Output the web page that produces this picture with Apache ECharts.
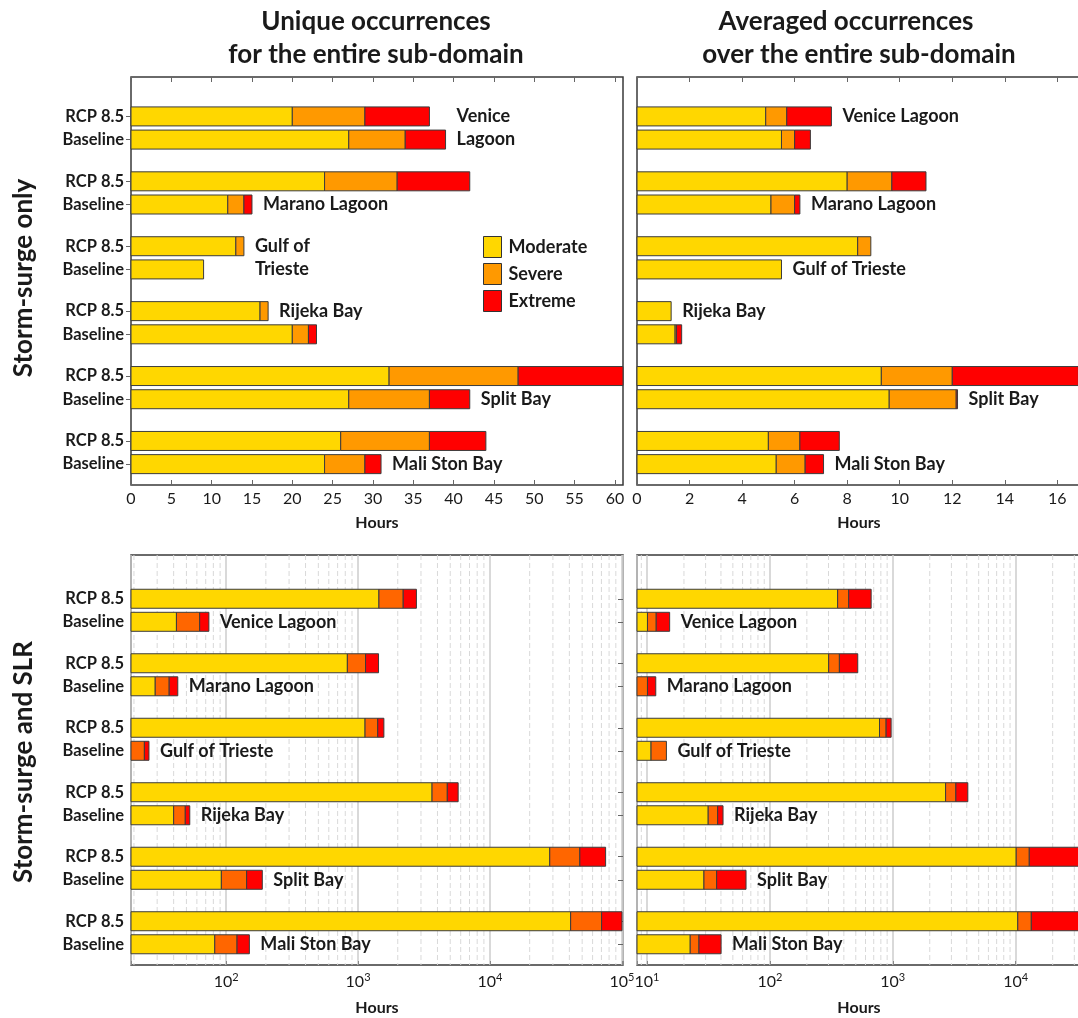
<!DOCTYPE html>
<html><head><meta charset="utf-8">
<script src="https://cdn.jsdelivr.net/npm/echarts@6/dist/echarts.min.js"></script>
<style>html,body{margin:0;padding:0;background:#fff}#c{width:1078px;height:1018px}</style>
</head><body><div id="c"></div>
<script>
// ---------------- data ----------------
const regions = ['Venice Lagoon','Marano Lagoon','Gulf of Trieste','Rijeka Bay','Split Bay','Mali Ston Bay'];
const scenarios = ['RCP 8.5','Baseline'];
const classes = ['Moderate','Severe','Extreme'];
const columnTitles = [['Unique occurrences','for the entire sub-domain'],['Averaged occurrences','over the entire sub-domain']];
const rowTitles = ['Storm-surge only','Storm-surge and SLR'];

// bar order: Venice RCP, Venice Base, Marano RCP, Marano Base, Gulf RCP, Gulf Base,
//            Rijeka RCP, Rijeka Base, Split RCP, Split Base, Mali RCP, Mali Base
// hours spent in each class
const uniqueSurgeModerate = [20, 27, 24, 12, 13, 9, 16, 20, 32, 27, 26, 24];
const uniqueSurgeSevere   = [ 9,  7,  9,  2,  1, 0,  1,  2, 16, 10, 11,  5];
const uniqueSurgeExtreme  = [ 8,  5,  9,  1,  0, 0,  0,  1, 13,  5,  7,  2];

const avgSurgeModerate = [4.9, 5.5, 8.0, 5.1, 8.4, 5.5, 1.3, 1.45, 9.3, 9.6, 5.0, 5.3];
const avgSurgeSevere   = [0.8, 0.5, 1.7, 0.9, 0.5, 0,   0,   0.05, 2.7, 2.55, 1.2, 1.1];
const avgSurgeExtreme  = [1.7, 0.6, 1.3, 0.2, 0,   0,   0,   0.2,  4.8, 0.05, 1.5, 0.7];

const uniqueSlrModerate = [1440, 42, 830, 29, 1130, 0,  3640, 40, 28400, 92, 40900, 82];
const uniqueSlrSevere   = [ 760, 21, 310,  8,  280, 24, 1110,  9, 19600, 51, 29300, 39];
const uniqueSlrExtreme  = [ 570, 11, 290,  6,  160,  2,  990,  4, 27300, 45, 30000, 29];

const avgSlrModerate = [356, 10.1, 301, 0,    780, 10.8, 2690, 31.5, 10100, 29.1, 10400, 22.5];
const avgSlrSevere   = [ 82,  1.8,  67, 10.1, 103,  3.6,  570,  6.1,  2800,  7.8,  3000,  4.0];
const avgSlrExtreme  = [229,  3.4, 151, 1.7,   87,  0,    820,  4.0, 20000, 27.1, 20000, 13.6];

// region name labels: [bar index it sits beside, text, vertical shift in bar steps]
const uniqueSurgeLabels = [[1,'Venice\nLagoon',-0.5],[3,'Marano Lagoon',0],[4,'Gulf of\nTrieste',0.5],[6,'Rijeka Bay',0],[9,'Split Bay',0],[11,'Mali Ston Bay',0]];
const avgSurgeLabels    = [[0,'Venice Lagoon',0],[3,'Marano Lagoon',0],[5,'Gulf of Trieste',0],[6,'Rijeka Bay',0],[9,'Split Bay',0],[11,'Mali Ston Bay',0]];
const uniqueSlrLabels   = [[1,'Venice Lagoon',0],[3,'Marano Lagoon',0],[5,'Gulf of Trieste',0],[7,'Rijeka Bay',0],[9,'Split Bay',0],[11,'Mali Ston Bay',0]];
const avgSlrLabels      = [[1,'Venice Lagoon',0],[3,'Marano Lagoon',0],[5,'Gulf of Trieste',0],[7,'Rijeka Bay',0],[9,'Split Bay',0],[11,'Mali Ston Bay',0]];

// axis ticks
const uniqueSurgeTicks = [0,5,10,15,20,25,30,35,40,45,50,55,60];
const avgSurgeTicks = [0,2,4,6,8,10,12,14,16];
const logMajorTicks = [10,100,1000,10000,100000];
const logMinorTicks = [9,20,30,40,50,60,70,80,90,200,300,400,500,600,700,800,900,
  2000,3000,4000,5000,6000,7000,8000,9000,20000,30000,40000,50000,60000,70000,80000,90000];

// ---------------- styling ----------------
const FONT = 'Lato, "Open Sans", "DejaVu Sans", sans-serif';
const TXT = '#1a1a1a';
const FRAME = '#3a3a3a';
const topColors = ['#FFD700','#FF9900','#FF0000'];
const botColors = ['#FFD700','#FF6600','#FF0000'];
const BAR_H = 19;

function slotOf(k, pad){ return pad + Math.floor(k/2)*14 + (k%2)*5; }
function makeCats(pad, botPad){
  const n = pad + 76 + botPad, ids = [], labs = [], isBar = [];
  for (let i=0;i<n;i++){ ids.push('s'+i); labs.push(''); isBar.push(false); }
  for (let k=0;k<12;k++){ const s = slotOf(k,pad); labs[s] = scenarios[k%2]; isBar[s] = true; }
  return {ids, labs, isBar};
}

function makeRender(info){
  return function(params, api){
    const cs = params.coordSys;
    const s = api.value(0), e = api.value(1), slot = api.value(2);
    const pe = api.coord([e, slot]);
    const x0 = s > 0 ? api.coord([s, slot])[0] : cs.x;
    const children = [];
    if (e > s) {
      const r = echarts.graphic.clipRectByRect({x:x0, y:pe[1]-BAR_H/2, width:pe[0]-x0, height:BAR_H},
        {x:cs.x, y:cs.y, width:cs.width, height:cs.height});
      if (r) children.push({type:'rect', shape:r, style:{fill:api.visual('color'), stroke:'#3c3c3c', lineWidth:1}});
    }
    const lab = info[params.dataIndex];
    if (lab) {
      const step = api.coord([e, slot+5])[1] - pe[1];
      children.push({type:'text', x: pe[0] + 11, y: pe[1] + lab.dy*step,
        style:{text:lab.text, fill:TXT, font:'bold 18px ' + FONT, verticalAlign:'middle', align:'left', lineHeight: step}});
    }
    return {type:'group', children};
  };
}

function panelSeries(vals, labels, xIdx, yIdx, pad, colors){
  const out = [];
  for (let c=0;c<3;c++){
    const data = [], info = [];
    for (let k=0;k<12;k++){
      let start = 0; for (let j=0;j<c;j++) start += vals[j][k];
      data.push([start, start + vals[c][k], slotOf(k,pad)]);
      info.push(null);
    }
    if (c === 2) labels.forEach(([k,text,dy]) => { info[k] = {text, dy}; });
    out.push({type:'custom', name:classes[c], xAxisIndex:xIdx, yAxisIndex:yIdx, z:3,
      itemStyle:{color:colors[c]}, encode:{x:[0,1], y:2}, data, renderItem:makeRender(info)});
  }
  return out;
}

function gridLineSeries(xIdx, yIdx){
  return {type:'custom', xAxisIndex:xIdx, yAxisIndex:yIdx, z:1, silent:true,
    encode:{x:0, y:1}, data: logMinorTicks.map(v => [v, 0]),
    renderItem(params, api){
      const cs = params.coordSys;
      const x = api.coord([api.value(0), 0])[0];
      if (x <= cs.x + 1 || x >= cs.x + cs.width - 1) return;
      return {type:'line', shape:{x1:x, y1:cs.y, x2:x, y2:cs.y+cs.height},
        style:{stroke:'#d9d9d9', lineWidth:1, lineDash:[5,3]}};
    }};
}

const TOP_PAD = 8, TOP_BOT = 4, BOT_PAD = 9, BOT_BOT = 4;
const catTop = makeCats(TOP_PAD, TOP_BOT);
const catBot = makeCats(BOT_PAD, BOT_BOT);

function leftCat(gi, cat, showLabels){
  return {type:'category', gridIndex:gi, inverse:true, data:cat.ids,
    axisLine:{show:false}, axisTick:{show:false}, splitLine:{show:false},
    axisLabel:{show:showLabels, interval:0, margin:7, formatter:(v,i)=>cat.labs[i],
      fontSize:16.5, fontWeight:'bold', color:TXT, fontFamily:FONT}};
}
function rightCat(gi, cat){
  return {type:'category', gridIndex:gi, inverse:true, position:'right', data:cat.ids,
    axisLine:{show:false}, axisLabel:{show:false}, splitLine:{show:false},
    axisTick:{show:true, inside:true, length:5, alignWithLabel:true,
      interval:(i)=>cat.isBar[i], lineStyle:{color:'#666', width:1}}};
}
function linX(gi, max, interval, ticks, pos, showLabel){
  return {type:'value', gridIndex:gi, min:0, max:max, interval:interval, position:pos || 'bottom',
    name: showLabel ? 'Hours' : '', nameLocation:'middle', nameGap:30,
    nameTextStyle:{fontSize:16, fontWeight:'bold', color:TXT, fontFamily:FONT},
    axisLine:{show:false}, splitLine:{show:false},
    axisTick:{show:true, inside:true, length:5, lineStyle:{color:'#666'}},
    axisLabel:{show: !!showLabel, margin:6, fontSize:16, color:TXT, fontFamily:FONT,
      formatter:(v)=> ticks.indexOf(Math.round(v*1000)/1000) >= 0 ? String(v) : ''}};
}
function logX(gi, min, max){
  return {type:'log', logBase:10, gridIndex:gi, min:min, max:max,
    name:'Hours', nameLocation:'middle', nameGap:35,
    nameTextStyle:{fontSize:16, fontWeight:'bold', color:TXT, fontFamily:FONT},
    axisLine:{show:false},
    splitLine:{show:true, lineStyle:{color:'#cdcdcd', width:1.5}},
    axisTick:{show:true, inside:true, length:4, lineStyle:{color:'#888'}},
    axisLabel:{margin:7, fontFamily:FONT, color:TXT,
      formatter:(v)=>{
        const e = Math.log10(v);
        if (Math.abs(e - Math.round(e)) > 1e-6) return '';
        const r = Math.round(e);
        if (logMajorTicks.indexOf(Math.pow(10,r)) < 0) return '';
        return '{b|10}{s|' + r + '}';
      },
      rich:{b:{fontSize:16, fontFamily:FONT, color:TXT}, s:{fontSize:11, fontFamily:FONT, color:TXT, padding:[0,0,9,0]}}}};
}

const gridCommon = {show:true, borderColor:FRAME, borderWidth:1.5, backgroundColor:'transparent', containLabel:false, outerBoundsMode:'none'};
const grids = [
  Object.assign({left:131, top:77, width:492, height:408}, gridCommon),
  Object.assign({left:637, top:77, right:-3, height:408}, gridCommon),
  Object.assign({left:131, top:555, width:492, height:410}, gridCommon),
  Object.assign({left:637, top:555, right:-3, height:410}, gridCommon)
];

const xAxes = [
  linX(0, 61, 5, uniqueSurgeTicks, 'bottom', true),
  linX(0, 61, 5, uniqueSurgeTicks, 'top', false),
  linX(1, 16.9, 2, avgSurgeTicks, 'bottom', true),
  linX(1, 16.9, 2, avgSurgeTicks, 'top', false),
  logX(2, 19, 102000),
  logX(3, 8.3, 34000)
];
const yAxes = [
  leftCat(0, catTop, true), rightCat(0, catTop),
  leftCat(1, catTop, false),
  leftCat(2, catBot, true), rightCat(2, catBot),
  leftCat(3, catBot, false)
];

const series = [].concat(
  panelSeries([uniqueSurgeModerate, uniqueSurgeSevere, uniqueSurgeExtreme], uniqueSurgeLabels, 0, 0, TOP_PAD, topColors),
  panelSeries([avgSurgeModerate, avgSurgeSevere, avgSurgeExtreme], avgSurgeLabels, 2, 2, TOP_PAD, topColors),
  [gridLineSeries(4, 3), gridLineSeries(5, 5)],
  panelSeries([uniqueSlrModerate, uniqueSlrSevere, uniqueSlrExtreme], uniqueSlrLabels, 4, 3, BOT_PAD, botColors),
  panelSeries([avgSlrModerate, avgSlrSevere, avgSlrExtreme], avgSlrLabels, 5, 5, BOT_PAD, botColors)
);

const titleFont = 'bold 26px ' + FONT;
const graphics = [
  {type:'text', x:376, y:22, style:{text:columnTitles[0][0], font:titleFont, fill:TXT, align:'center', verticalAlign:'middle'}},
  {type:'text', x:376, y:55, style:{text:columnTitles[0][1], font:titleFont, fill:TXT, align:'center', verticalAlign:'middle'}},
  {type:'text', x:846, y:22, style:{text:columnTitles[1][0], font:titleFont, fill:TXT, align:'center', verticalAlign:'middle'}},
  {type:'text', x:859, y:55, style:{text:columnTitles[1][1], font:titleFont, fill:TXT, align:'center', verticalAlign:'middle'}},
  {type:'text', x:24, y:278, rotation:Math.PI/2, style:{text:rowTitles[0], font:titleFont, fill:TXT, align:'center', verticalAlign:'middle'}},
  {type:'text', x:24, y:762, rotation:Math.PI/2, style:{text:rowTitles[1], font:titleFont, fill:TXT, align:'center', verticalAlign:'middle'}}
];

const chart = echarts.init(document.getElementById('c'));
chart.setOption({
  animation:false,
  backgroundColor:'#ffffff',
  textStyle:{fontFamily:FONT},
  grid:grids, xAxis:xAxes, yAxis:yAxes, series:series,
  legend:{data:classes, orient:'vertical', left:483, top:236, padding:0,
    itemWidth:18, itemHeight:21, itemGap:5, icon:'rect', selectedMode:false,
    itemStyle:{borderColor:'#333', borderWidth:1},
    textStyle:{fontSize:18, fontWeight:'bold', color:TXT, fontFamily:FONT, padding:[0,0,0,2]}},
  graphic:graphics
});
</script>
</body></html>
